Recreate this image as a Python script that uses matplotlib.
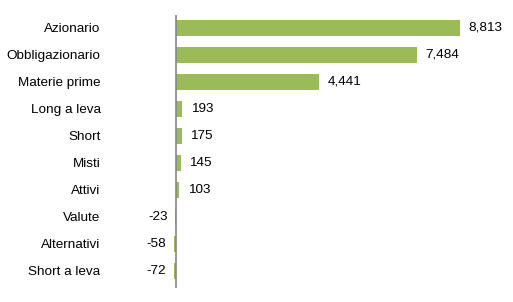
import matplotlib.pyplot as plt

categories = ['Azionario', 'Obbligazionario', 'Materie prime', 'Long a leva', 'Short',
              'Misti', 'Attivi', 'Valute', 'Alternativi', 'Short a leva']
values = [8813, 7484, 4441, 193, 175, 145, 103, -23, -58, -72]

plt.rcParams['font.family'] = ['Liberation Sans', 'DejaVu Sans']

fig = plt.figure(figsize=(5.13, 3.02), dpi=100)
ax = fig.add_axes([170 / 513, 14 / 302, 343 / 513, 273 / 302])

pos = list(range(len(categories)))
ax.barh(pos, values, height=0.56, color='#9BBB59')
ax.set_xlim(-186, 10450)
ax.set_ylim(9.63, -0.48)

# etichette dei valori
for p, v in zip(pos, values):
    if v >= 0:
        ax.annotate(f'{v:,}', (v, p), xytext=(6, 0), textcoords='offset points',
                    ha='left', va='center', fontsize=9.7)
    else:
        ax.annotate(f'{v:,}', (v, p), xytext=(-5.5, 0), textcoords='offset points',
                    ha='right', va='center', fontsize=9.7)

ax.axvline(0, color='#868686', lw=1.2)

ax.set_yticks(pos)
ax.set_yticklabels(categories, fontsize=9.7)
ax.tick_params(axis='y', length=0, pad=50)
ax.set_xticks([])
for s in ax.spines.values():
    s.set_visible(False)

plt.savefig('out.png', dpi=100)
